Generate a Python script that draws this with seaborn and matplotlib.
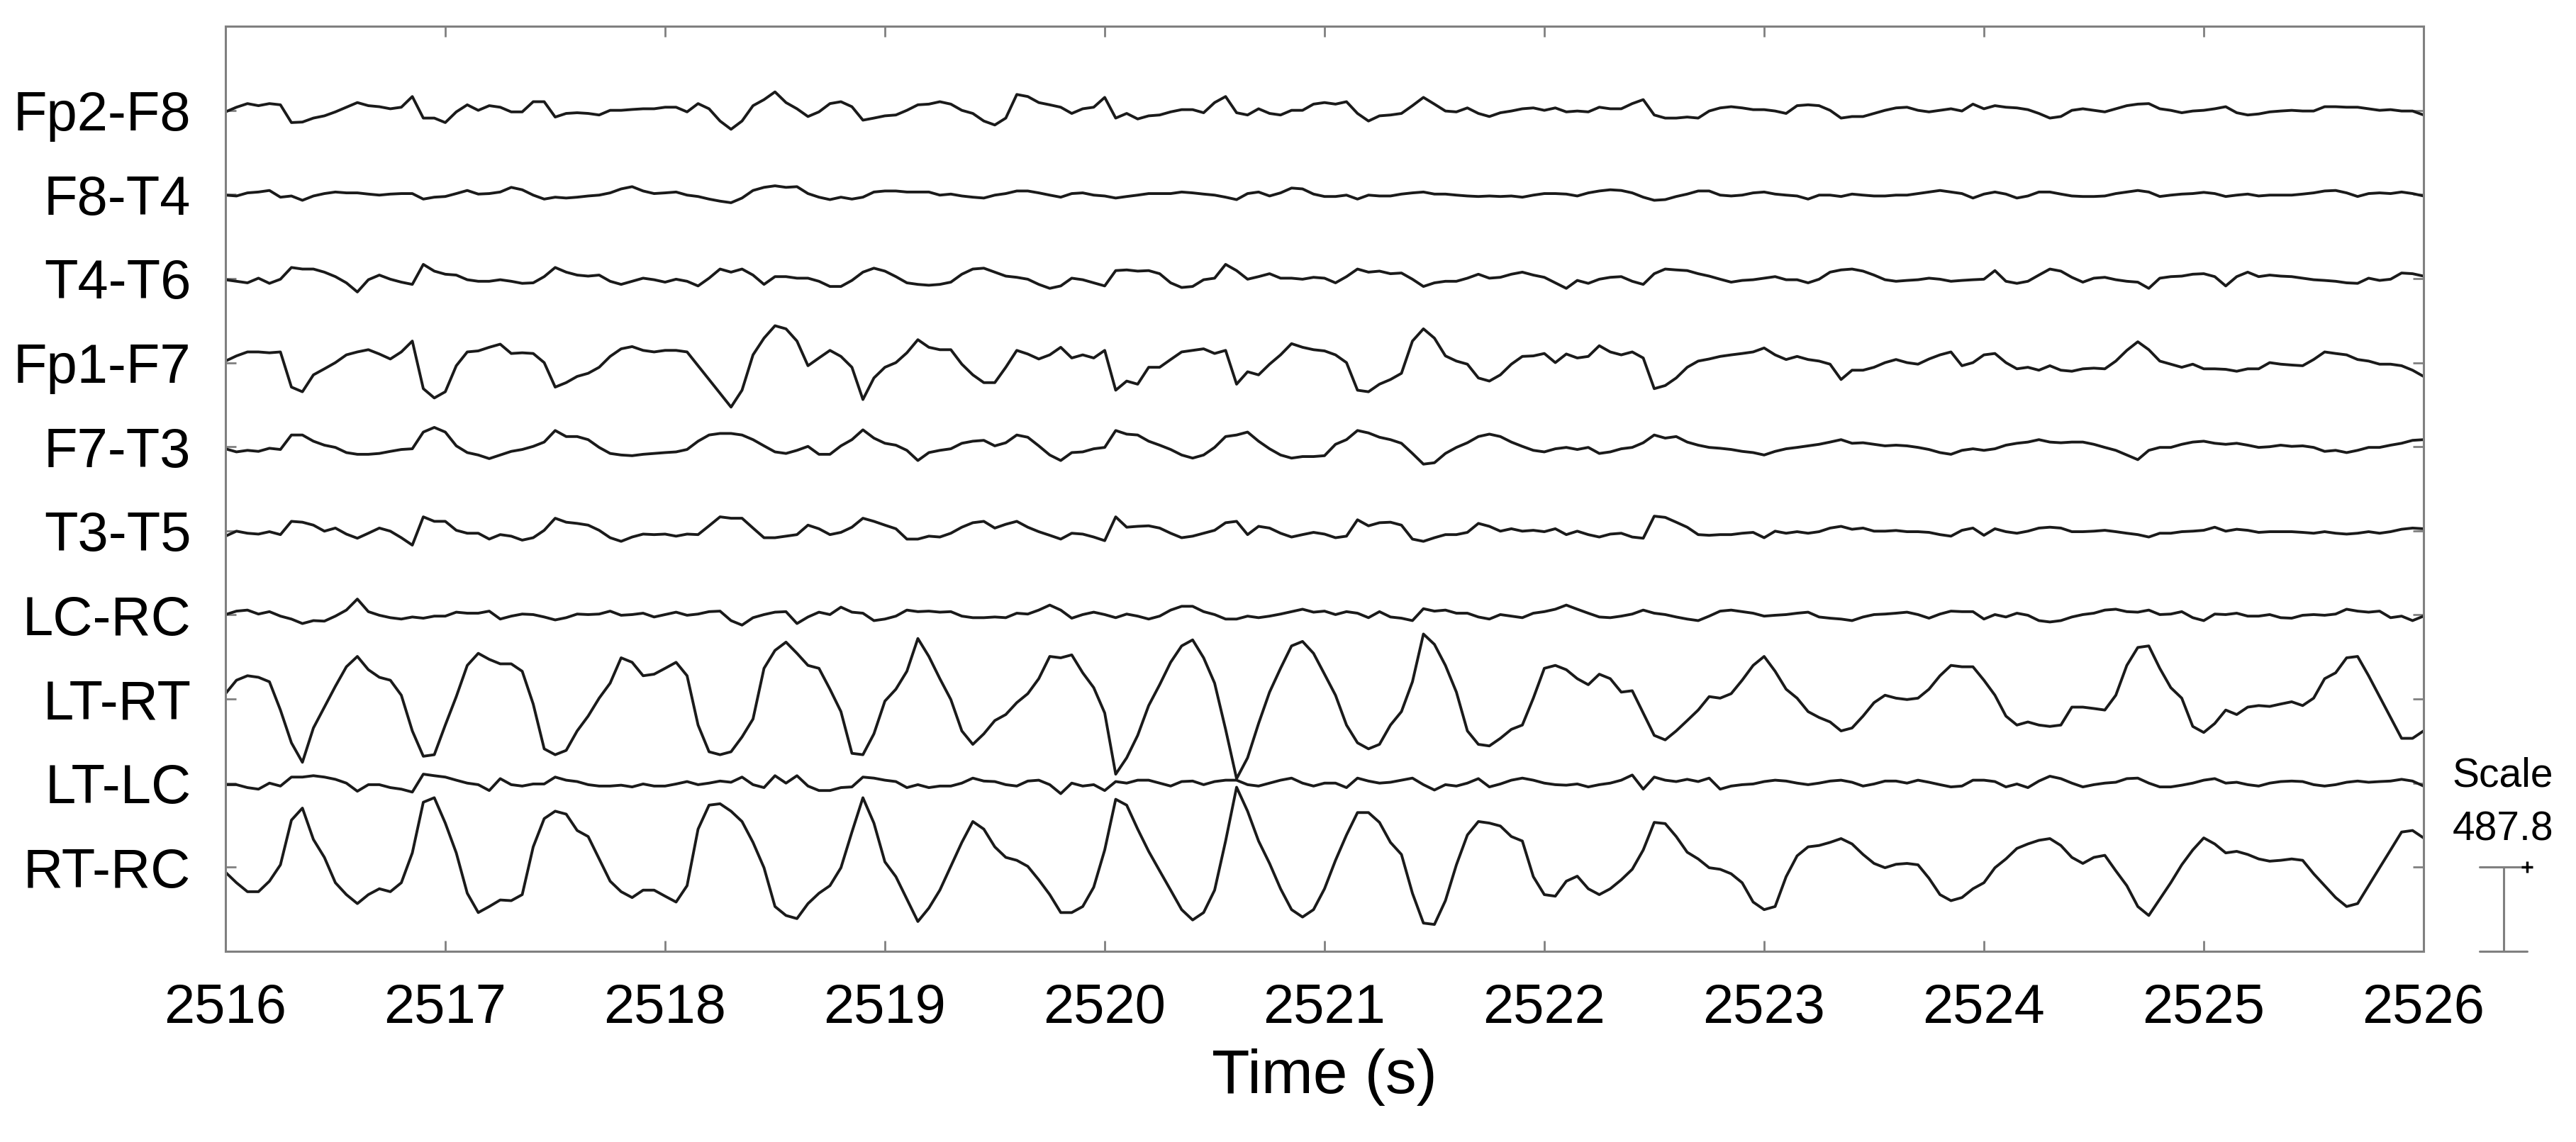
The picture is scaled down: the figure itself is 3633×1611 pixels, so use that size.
import numpy as np
import pandas as pd
import matplotlib
matplotlib.use("Agg")
import matplotlib.pyplot as plt
import seaborn as sns

# ---------------- data ----------------
channels = ["Fp2-F8", "F8-T4", "T4-T6", "Fp1-F7", "F7-T3",
            "T3-T5", "LC-RC", "LT-RT", "LT-LC", "RT-RC"]
t_start = 2516.0          # s
dt = 0.05                 # s between read samples
scale_uv = 487.8          # channel spacing / scale bar (uV)
x_ticks = list(range(2516, 2527))
scale_title = "Scale"
scale_value = "487.8"

fp2_f8 = [-9,18,39,27,39,32,-71,-68,-45,-32,-9,18,45,27,21,9,18,80,-45,-45,-71,-9,32,0,27,18,-9,-9,50,50,-39,-18,-14,-18,-27,0,0,5,9,9,18,18,-9,39,9,-62,-110,-62,27,62,107,
          45,9,-36,-9,39,50,21,-57,-45,-32,-27,0,32,36,50,36,0,-18,-62,-85,-45,92,80,45,32,18,-18,9,18,75,-45,-18,-50,-32,-27,-9,4,4,-14,45,80,-14,-27,9,-18,-27,0,0,36,45,36,
          50,-18,-62,-32,-27,-18,27,75,36,-4,-9,14,-18,-36,-14,-4,9,14,0,14,-9,-4,-9,18,9,9,39,62,-27,-45,-45,-39,-45,-4,14,21,14,4,4,-4,-18,27,32,27,0,-45,-36,-36,-18,0,14,18,
          0,-9,0,9,-4,36,9,27,18,14,4,-18,-45,-36,0,9,0,-9,9,27,36,39,9,0,-14,-4,0,9,21,-14,-27,-21,-9,-4,0,-4,-4,21,21,18,18,9,0,4,-4,-4,-27]
f8_t4 = [-4,-9,9,14,23,-16,-9,-34,-9,5,14,9,9,2,-4,2,5,5,-27,-16,-12,5,23,2,5,14,41,27,-4,-27,-16,-21,-16,-9,-4,9,32,45,20,5,9,14,-4,-12,-27,-39,-48,-21,23,41,50,
         41,45,5,-16,-30,-16,-27,-16,14,20,20,14,14,14,-4,2,-9,-16,-21,-4,5,20,20,9,-4,-16,5,9,-4,-9,-21,-12,-4,5,5,5,14,9,2,-4,-16,-30,5,14,-9,9,37,32,2,-12,-12,
         -4,-27,-4,-9,-9,2,9,14,2,2,-4,-9,-12,-9,-12,-9,-16,-4,5,5,2,-9,9,20,27,23,9,-16,-34,-30,-12,2,20,20,-4,-9,-4,9,14,2,-4,-9,-27,-4,-4,-12,2,-4,-9,-9,-4,-4,
         5,14,23,14,5,-21,2,14,2,-21,-9,14,14,2,-9,-12,-12,-9,5,14,23,14,-12,-4,2,5,12,5,-12,-4,2,-9,-4,-4,-4,2,9,20,23,9,-12,5,9,5,14,5,-9]
t4_t6 = [-7,-16,-25,2,-28,-4,64,55,55,37,11,-25,-78,-7,20,-4,-21,-34,82,43,25,20,-7,-16,-16,-7,-16,-28,-25,11,64,37,20,14,20,-16,-34,-16,2,-7,-21,-4,-16,-43,2,55,37,55,20,-34,11,
         11,2,2,-16,-46,-46,-11,37,60,43,11,-25,-34,-39,-34,-21,25,55,60,37,14,7,-4,-34,-57,-43,2,-7,-25,-43,46,50,43,46,28,-25,-52,-46,-7,2,82,46,-4,11,28,2,2,-4,7,2,-25,
         11,55,37,43,28,32,-4,-46,-25,-16,-16,2,25,2,7,25,37,20,7,-25,-57,-11,-28,-4,7,11,-16,-34,28,55,50,46,28,14,-4,-21,-11,-7,2,11,-7,-7,-25,-4,37,50,55,43,20,-7,-16,-11,
         -7,2,-4,-16,-11,-7,-4,46,-16,-28,-16,20,55,43,7,-21,2,7,-7,-16,-21,-57,2,11,14,25,28,11,-43,11,37,11,20,14,11,2,-7,-11,-16,-25,-28,2,-11,-4,32,28,14]
fp1_f7 = [9,39,62,62,57,62,-142,-169,-71,-36,0,45,62,75,50,21,62,125,-151,-205,-169,-18,62,68,89,107,53,57,53,0,-142,-116,-80,-62,-27,36,80,93,71,62,71,71,62,-18,-98,-178,-258,-160,45,142,214,
          196,125,-18,27,71,36,-27,-214,-89,-27,0,57,133,89,75,75,-9,-71,-116,-116,-27,71,50,21,45,89,27,45,27,71,-160,-107,-125,-27,-27,18,62,71,80,53,71,-125,-53,-71,-9,45,110,89,75,68,45,
          0,-160,-169,-125,-98,-62,125,196,142,39,9,-9,-89,-107,-71,-9,36,39,53,0,50,27,36,98,62,45,62,27,-151,-133,-89,-27,9,21,36,45,53,62,85,45,18,36,18,9,-9,-98,-44,-44,-27,0,18,0,
          -9,21,45,62,-18,0,45,53,0,-36,-27,-44,-18,-44,-50,-36,-32,-36,9,71,121,75,9,-9,-27,-9,-36,-36,-39,-50,-36,-36,0,-9,-14,-18,18,62,53,45,18,9,-9,-9,-18,-44,-80]
f7_t3 = [-12,-30,-21,-27,-9,-16,68,68,32,9,-4,-34,-44,-44,-39,-27,-16,-12,85,112,85,5,-34,-48,-69,-48,-27,-16,2,27,94,59,59,41,-4,-39,-48,-52,-44,-39,-34,-30,-16,32,68,77,77,68,41,5,-30,
         -39,-21,2,-44,-44,5,41,98,50,20,9,-21,-80,-34,-21,-12,20,32,37,5,23,68,55,5,-48,-80,-34,-30,-12,-4,94,73,68,32,9,-16,-48,-66,-48,-4,59,68,85,32,-12,-48,-66,-57,-57,-52,14,
         41,94,80,55,41,20,-39,-101,-93,-39,-4,23,59,73,59,27,2,-21,-30,-12,-4,-16,-4,-39,-30,-12,-4,23,68,50,59,27,9,-4,-9,-16,-27,-34,-48,-27,-12,-4,5,14,27,41,20,23,14,5,9,5,
         -4,-16,-34,-44,-21,-12,-21,-12,9,20,27,41,27,23,27,27,14,-4,-21,-48,-75,-21,-4,-4,14,27,32,20,14,20,9,-4,0,9,2,5,-4,-27,-21,-34,-21,-4,-4,9,20,37,41]
t3_t5 = [-31,-2,-14,-19,-5,-22,55,50,33,-2,16,-19,-43,-14,16,-2,-40,-83,81,55,55,3,-14,-14,-48,-22,-31,-54,-40,3,73,50,43,33,3,-40,-61,-36,-19,-22,-19,-31,-19,-22,29,81,73,73,16,-40,-40,
         -31,-22,33,12,-22,-9,21,73,55,33,12,-48,-48,-31,-36,-14,21,47,55,16,38,55,21,-5,-26,-48,-14,-19,-36,-57,81,21,26,29,16,-14,-40,-31,-14,3,47,55,-22,26,16,-14,-36,-22,-9,-19,-40,
         -31,64,29,47,50,33,-48,-61,-40,-22,-22,-9,43,26,-2,12,-2,3,-5,12,-22,-2,-22,-36,-19,-14,-36,-43,85,78,50,21,-22,-26,-22,-22,-14,-9,-40,-2,-14,-5,-14,-5,16,26,9,16,-2,-2,2,-5,
         -5,-9,-22,-31,3,16,-26,12,-5,-14,-2,16,21,16,-5,-5,-2,3,-5,-14,-22,-36,-14,-14,-5,-2,3,21,-2,9,3,-9,-5,-5,-5,-9,-14,-5,-14,-19,-14,-5,-14,-5,9,16,12]
lc_rc = [2,22,28,5,19,-7,-24,-50,-33,-36,-7,28,92,19,-2,-16,-24,-12,-19,-7,-7,16,10,10,22,-24,-7,5,2,-12,-29,-16,5,2,5,22,-2,2,10,-12,2,16,-2,5,19,22,-33,-59,-16,2,16,
         19,-50,-12,16,2,45,16,10,-33,-24,-7,28,19,22,16,19,-7,-16,-16,-12,-16,10,5,28,57,28,-19,2,16,2,-16,5,-7,-24,-7,28,50,50,19,2,-24,-24,-7,-16,-7,5,19,33,16,22,2,
         19,10,-16,19,-12,-19,-33,36,22,28,10,10,-12,-24,2,-7,-16,10,19,33,57,33,10,-12,-16,-7,5,28,10,2,-12,-24,-33,-7,22,28,19,10,-7,-2,2,10,16,-12,-19,-24,-33,-12,2,5,10,16,
         2,-19,5,22,19,19,-24,2,-12,10,-2,-33,-41,-33,-12,2,10,28,33,19,16,28,2,5,19,-16,-33,5,2,10,-7,-7,2,-16,-19,-2,2,-2,5,33,22,16,22,-16,-7,-33,-7]
lt_rt = [31,109,135,126,100,-64,-254,-367,-168,-47,74,187,247,170,126,109,22,-185,-332,-323,-151,14,195,265,230,204,204,161,-29,-289,-323,-298,-185,-99,5,92,239,213,135,144,178,213,135,-151,-306,-323,-306,-220,-116,178,282,
         330,265,195,178,57,-73,-315,-323,-202,-12,57,161,351,247,118,-3,-185,-263,-202,-125,-90,-21,31,118,247,239,256,152,66,-81,-436,-341,-211,-38,83,213,308,343,239,92,-176,-462,-341,-142,40,178,308,334,265,144,22,
         -151,-254,-289,-263,-151,-73,100,377,317,195,40,-185,-263,-272,-228,-176,-151,5,178,195,170,118,83,144,118,40,48,-81,-211,-237,-185,-125,-64,14,5,31,109,195,247,161,57,5,-73,-107,-133,-185,-168,-99,-21,22,5,-3,
         5,57,135,195,187,187,109,22,-99,-151,-133,-151,-159,-151,-47,-47,-55,-64,22,195,299,308,178,66,5,-159,-194,-142,-64,-90,-47,-38,-43,-29,-16,-38,5,118,152,239,247,135,14,-107,-228,-228,-185]
lt_lc = [-9,-9,-26,-35,0,-17,35,35,43,35,22,0,-47,-9,-9,-26,-35,-52,52,43,35,17,0,-9,-43,26,-9,-17,-5,-5,35,17,9,-9,-17,-17,-12,-22,-5,-17,-17,-5,9,-9,0,12,5,35,-9,-26,43,
         0,43,-17,-43,-43,-26,-22,35,29,17,9,-26,-9,-26,-17,-17,0,29,12,9,-9,-17,12,17,-9,-61,0,-17,-9,-43,9,0,17,17,0,-17,9,12,-9,9,17,17,-9,-17,0,17,29,0,-17,0,0,
         -26,29,12,0,5,17,29,-9,-40,-9,-17,0,26,-22,-5,17,29,17,0,-9,-12,-5,-22,-9,0,17,47,-35,35,17,9,22,9,29,-35,-17,-9,-5,9,17,12,0,-9,0,12,17,5,-17,-5,12,12,0,
         17,5,-9,-22,-17,17,17,9,-22,-5,-26,12,40,26,0,-22,-9,0,5,26,29,0,-22,-22,-12,0,17,26,0,5,-9,-17,0,9,12,9,-9,-17,-9,5,12,5,9,12,22,12,-17]
rt_rc = [-29,-90,-142,-142,-81,14,273,343,161,57,-90,-159,-211,-159,-125,-142,-90,83,377,403,256,83,-151,-263,-228,-190,-194,-159,118,282,325,308,213,178,48,-81,-142,-176,-133,-133,-168,-202,-107,221,360,368,325,265,144,-3,-228,
         -280,-298,-211,-151,-107,-3,204,403,256,31,-55,-185,-315,-237,-133,5,144,265,221,118,57,40,5,-73,-159,-263,-263,-228,-116,100,394,360,221,92,-21,-133,-246,-306,-263,-133,152,464,325,152,22,-125,-246,-289,-246,-125,40,
         187,317,317,260,144,74,-151,-324,-332,-194,14,187,265,256,239,178,152,-55,-159,-168,-81,-52,-125,-159,-125,-73,-12,100,260,253,178,87,48,-3,-12,-38,-90,-202,-246,-228,-55,66,118,126,144,166,135,74,22,-3,17,22,
         14,-64,-159,-194,-176,-125,-90,-3,48,109,135,156,166,126,57,22,57,69,-21,-107,-228,-280,-185,-90,14,100,170,135,83,92,74,48,35,40,48,40,-38,-107,-176,-228,-211,-107,-3,100,204,213,170]

series = [fp2_f8, f8_t4, t4_t6, fp1_f7, f7_t3, t3_t5, lc_rc, lt_rt, lt_lc, rt_rc]

# ---------------- long-form table ----------------
n_ch = len(channels)
offsets = [(n_ch - k) * scale_uv for k in range(n_ch)]
frames = []
for name, vals, off in zip(channels, series, offsets):
    v = np.asarray(vals, dtype=float)
    t = t_start + dt * np.arange(len(v))
    frames.append(pd.DataFrame({"time": t, "channel": name, "uV": v, "y": v + off}))
df = pd.concat(frames, ignore_index=True)

# ---------------- style ----------------
sns.set_theme(style="white")
plt.rcParams["font.family"] = ["Liberation Sans", "DejaVu Sans"]

W, H = 3633, 1611
fig = plt.figure(figsize=(W / 100, H / 100), dpi=100)
ax_l, ax_r, ax_t, ax_b = 318 / W, 3418 / W, 1 - 37 / H, 1 - 1342 / H
ax = fig.add_axes([ax_l, ax_b, ax_r - ax_l, ax_t - ax_b])

sns.lineplot(data=df, x="time", y="y", hue="channel", hue_order=channels,
             palette=["#1a1a1a"] * n_ch, estimator=None, sort=False,
             legend=False, linewidth=2.8, ax=ax)

ax.set_xlim(x_ticks[0], x_ticks[-1])
ax.set_ylim(0, (n_ch + 1) * scale_uv)
ax.set_xticks(x_ticks)
ax.set_xticklabels([str(v) for v in x_ticks])
ax.set_yticks(offsets)
ax.set_yticklabels(channels)
ax.set_ylabel("")
ax.set_xlabel("Time (s)", fontsize=63, labelpad=14, color="black")
ax.grid(False)

axis_grey = "#808080"
for sp in ax.spines.values():
    sp.set_visible(True)
    sp.set_color(axis_grey)
    sp.set_linewidth(2.2)

ax.tick_params(axis="both", which="major", direction="in", length=11, width=2,
               color=axis_grey, labelcolor="black", labelsize=56,
               top=True, right=True, bottom=True, left=True)
ax.tick_params(axis="x", pad=32)
ax.tick_params(axis="y", pad=35)

# ---------------- scale bar ----------------
px_per_s = (3418 - 318) / (x_ticks[-1] - x_ticks[0])
xb = x_ticks[-1] + (3531 - 3418) / px_per_s
xc0 = x_ticks[-1] + (3497 - 3418) / px_per_s
xc1 = x_ticks[-1] + (3564 - 3418) / px_per_s
ax.plot([xb, xb], [0, scale_uv], color=axis_grey, lw=2.2, clip_on=False)
ax.plot([xc0, xc1], [0, 0], color=axis_grey, lw=2.2, clip_on=False)
ax.plot([xc0, xc1], [scale_uv, scale_uv], color=axis_grey, lw=2.2, clip_on=False)
ax.plot([xc1], [scale_uv], marker="+", color="black", markersize=11,
        markeredgewidth=2.5, clip_on=False)

fig.text(3530 / W, 1 - 1095 / H, scale_title, ha="center", va="center",
         fontsize=41, color="black")
fig.text(3530 / W, 1 - 1170 / H, scale_value, ha="center", va="center",
         fontsize=41, color="black")

fig.savefig("out.png", dpi=100, facecolor="white")
